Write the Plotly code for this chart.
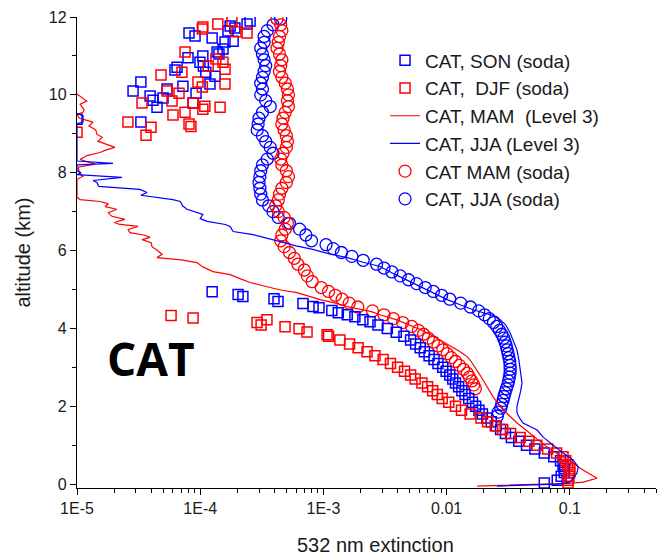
import math
import plotly.graph_objects as go

# ---------------- data ----------------
# CAT, SON (soda) - blue squares
son_alt = [10.10, 10.33, 9.97, 9.86, 9.68, 9.92, 10.15, 10.64, 10.71, 10.22, 10.95, 11.59, 11.51,
           9.79, 10.04, 10.84, 11.00, 10.74, 10.58, 10.28, 11.46, 10.48, 11.10, 11.05, 11.18, 11.36,
           11.64, 11.77, 11.38, 11.72, 11.82, 11.90, 9.30, 9.37,
           4.94, 4.87, 4.82, 4.76, 4.69, 4.64, 4.56, 4.53, 4.46, 4.40, 4.35, 4.30, 4.22, 4.17,
           4.09, 4.0, 3.9, 3.8, 3.7, 3.6, 3.5, 3.4, 3.3, 3.2, 3.1, 3.0, 2.9, 2.8, 2.7, 2.6, 2.5,
           2.4, 2.3, 2.2, 2.1, 2.0, 1.9, 1.8, 1.7, 1.6, 1.5, 1.4, 1.3, 1.2, 1.1, 1.0, 0.9, 0.8,
           0.7, 0.6, 0.5, 0.4, 0.3, 0.2, 0.1, 0.03]
son_ext = [2.85e-5, 3.30e-5, 3.92e-5, 4.14e-5, 4.46e-5, 4.99e-5, 5.38e-5, 6.24e-5, 6.49e-5, 7.24e-5,
           7.96e-5, 8.11e-5, 9.08e-5, 8.75e-5, 9.25e-5, 9.95e-5, 1.05e-4, 1.06e-4, 1.11e-4, 1.20e-4,
           1.25e-4, 1.32e-4, 1.37e-4, 1.42e-4, 1.53e-4, 1.59e-4, 1.68e-4, 1.75e-4, 1.85e-4, 1.91e-4,
           2.40e-4, 2.54e-4, 3.30e-5, 1.0e-5,
           1.25e-4, 2.03e-4, 2.22e-4, 3.97e-4, 4.28e-4, 6.82e-4, 8.24e-4, 9.2e-4, 1.17e-3, 1.32e-3,
           1.56e-3, 1.80e-3, 2.09e-3, 2.39e-3,
           2.77e-3, 3.3e-3, 3.9e-3, 4.5e-3, 5.1e-3, 5.6e-3, 6.1e-3, 6.6e-3, 7.2e-3, 7.9e-3, 8.5e-3,
           9.3e-3, 9.9e-3, 0.0106, 0.0112, 0.0118, 0.0125, 0.0133, 0.0141, 0.0151, 0.0162, 0.0172,
           0.0183, 0.0195, 0.0212, 0.0230, 0.0252, 0.0274, 0.0300, 0.0335, 0.0385, 0.0445, 0.0520,
           0.0620, 0.0740, 0.0840, 0.0880, 0.0905, 0.0900, 0.0850, 0.0790, 0.0620]

# CAT, DJF (soda) - red squares
djf_alt = [9.30, 8.96, 9.17, 9.79, 10.51, 10.10, 9.84, 9.48, 10.04, 10.58, 11.10, 9.55, 9.25, 9.19,
           9.79, 10.33, 10.20, 9.63, 9.71, 11.74, 11.69, 10.74, 11.82, 10.92, 9.68, 10.84, 10.66,
           10.28, 11.90, 11.62, 11.59, 9.04,
           4.33, 4.27, 4.22, 4.15, 4.09, 4.04, 3.99, 3.91, 3.84,
           3.8, 3.7, 3.6, 3.5, 3.4, 3.3, 3.2, 3.1, 3.0, 2.9, 2.8, 2.7, 2.6, 2.5, 2.4, 2.3, 2.2, 2.1,
           2.0, 1.9, 1.8, 1.7, 1.6, 1.5, 1.4, 1.3, 1.2, 1.1, 1.0, 0.9, 0.8, 0.7, 0.6, 0.5, 0.4, 0.3,
           0.2, 0.1, 0.03]
djf_ext = [2.59e-5, 3.63e-5, 3.99e-5, 3.37e-5, 4.81e-5, 5.38e-5, 5.90e-5, 6.01e-5, 6.73e-5, 7.11e-5,
           7.53e-5, 7.53e-5, 8.11e-5, 8.41e-5, 8.75e-5, 9.59e-5, 1.04e-4, 1.05e-4, 1.09e-4, 1.05e-4,
           1.04e-4, 1.16e-4, 1.39e-4, 1.34e-4, 1.45e-4, 1.53e-4, 1.59e-4, 1.59e-4, 1.81e-4, 1.95e-4,
           2.40e-4, 1.0e-5,
           5.8e-5, 8.75e-5, 3.48e-4, 2.89e-4, 3.12e-4, 4.88e-4, 6.34e-4, 7.36e-4, 1.07e-3,
           1.1e-3, 1.36e-3, 1.63e-3, 1.91e-3, 2.26e-3, 2.62e-3, 3.05e-3, 3.5e-3, 4.0e-3, 4.55e-3,
           5.1e-3, 5.55e-3, 6.3e-3, 7.0e-3, 7.7e-3, 8.4e-3, 9.2e-3, 0.0104, 0.0118, 0.0132, 0.0155,
           0.0190, 0.0215, 0.0248, 0.0285, 0.0330, 0.0395, 0.0465, 0.0540, 0.0660, 0.0780, 0.0880,
           0.0925, 0.0960, 0.0995, 0.1000, 0.0985, 0.0970, 0.0965]

# CAT, MAM (Level 3) - red line
mam_l3_alt = [10.02, 9.92, 9.84, 9.76, 9.62, 9.55, 9.50, 9.40, 9.30, 9.20, 9.10, 8.99, 8.91, 8.81,
              8.72, 8.65, 8.58, 8.52, 8.44, 8.34, 8.22, 8.14, 7.96, 7.91, 7.83, 7.37, 7.31, 7.26,
              7.20, 7.13, 7.06, 6.97, 6.88, 6.80, 6.72, 6.67, 6.62, 6.54, 6.46, 6.40, 6.34, 6.28,
              6.20, 6.10, 6.00, 5.90, 5.82, 5.76, 5.69, 5.58, 5.46, 5.38, 5.28, 5.18, 5.07, 4.98,
              4.92, 4.83, 4.74, 4.65, 4.56, 4.43, 4.35, 4.22, 4.10, 3.97, 3.84, 3.71, 3.58, 3.45,
              3.36, 3.27, 3.15, 3.01, 2.85, 2.68, 2.45, 2.24, 2.08, 1.91, 1.75, 1.57, 1.44, 1.31,
              1.13, 0.95, 0.82, 0.70, 0.54, 0.40, 0.28, 0.15, 0.05, 0.02, -0.05]
mam_l3_ext = [1.0e-5, 1.1e-5, 1.2e-5, 1.06e-5, 1.14e-5, 1.12e-5, 1.0e-5, 1.05e-5, 1.35e-5, 1.25e-5,
              1.42e-5, 1.45e-5, 1.6e-5, 1.48e-5, 1.75e-5, 2.03e-5, 1.7e-5, 1.54e-5, 1.2e-5, 1.06e-5,
              1.4e-5, 1.02e-5, 1.06e-5, 1.12e-5, 1.0e-5, 1.0e-5, 1.06e-5, 1.54e-5, 1.8e-5, 1.69e-5,
              2.11e-5, 1.8e-5, 1.92e-5, 2.45e-5, 2.0e-5, 2.23e-5, 3.13e-5, 2.6e-5, 2.69e-5, 3.5e-5,
              3.92e-5, 3.37e-5, 4.0e-5, 4.06e-5, 4.5e-5, 4.9e-5, 4.46e-5, 7.0e-5, 9.4e-5, 1.05e-4,
              1.27e-4, 1.75e-4, 2.1e-4, 2.54e-4, 3.48e-4, 4.6e-4, 6.1e-4, 7.5e-4, 9.4e-4, 1.25e-3,
              1.56e-3, 2.45e-3, 2.88e-3, 3.95e-3, 4.9e-3, 6.1e-3, 7.4e-3, 8.8e-3, 0.0104, 0.0121,
              0.0134, 0.0147, 0.0158, 0.0170, 0.0182, 0.0197, 0.0216, 0.0238, 0.0260, 0.0287,
              0.0325, 0.0372, 0.0420, 0.0475, 0.0560, 0.0653, 0.0760, 0.0881, 0.106, 0.122, 0.140,
              0.166, 0.128, 0.100, 0.0177]

# CAT, JJA (Level 3) - blue line
jja_l3_alt = [9.52, 9.47, 9.30, 9.26, 8.30, 8.24, 8.20, 8.05, 8.00, 7.95, 7.88, 7.80, 7.75, 7.65,
              7.57, 7.49, 7.42, 7.39, 7.31, 7.26, 7.15, 7.06, 6.98, 6.93, 6.82, 6.75, 6.67, 6.62,
              6.55, 6.49, 6.41, 6.33, 6.23, 6.12, 6.03, 5.92, 5.82, 5.70, 5.59, 5.40, 5.20, 5.00,
              4.74, 4.60, 4.48, 4.30, 4.10, 3.89, 3.65, 3.45, 3.20, 3.01, 2.80, 2.60, 2.38, 2.16,
              2.00, 1.83, 1.70, 1.57, 1.39, 1.20, 1.06, 0.92, 0.80, 0.62, 0.44, 0.28, 0.15, 0.05,
              0.00, -0.05]
jja_l3_ext = [1.0e-5, 1.12e-5, 1.12e-5, 1.0e-5, 1.0e-5, 1.96e-5, 1.0e-5, 1.0e-5, 1.08e-5, 1.0e-5,
              2.32e-5, 1.35e-5, 1.45e-5, 1.5e-5, 3.24e-5, 3.7e-5, 3.3e-5, 3.9e-5, 6.0e-5, 6.9e-5,
              7.2e-5, 7.8e-5, 9.5e-5, 1.05e-4, 1.0e-4, 1.14e-4, 1.6e-4, 1.75e-4, 1.8e-4, 1.85e-4,
              2.69e-4, 3.3e-4, 4.45e-4, 6.0e-4, 8.2e-4, 1.1e-3, 1.56e-3, 2.1e-3, 2.88e-3, 3.74e-3,
              5.05e-3, 6.8e-3, 0.0101, 0.0130, 0.0164, 0.0256, 0.0300, 0.0327, 0.0352, 0.0372,
              0.0385, 0.0394, 0.0402, 0.0409, 0.0398, 0.0380, 0.0372, 0.0372, 0.0390, 0.0417,
              0.0542, 0.0610, 0.0690, 0.0780, 0.0881, 0.106, 0.117, 0.114, 0.106, 0.100, 0.0787,
              0.0256]

# CAT MAM (soda) - red circles
mam_soda_alt = [11.95, 11.8, 11.65, 11.5, 11.35, 11.2, 11.05, 10.9, 10.75, 10.6, 10.45, 10.3, 10.15,
                10.0, 9.85, 9.7, 9.55, 9.4, 9.25, 9.1, 8.95, 8.8, 8.65, 8.5, 8.35, 8.2, 8.05, 7.9,
                7.75, 7.6, 7.45, 7.3, 7.15, 7.0, 6.85, 6.7, 6.55, 6.4, 6.25, 6.1, 5.95, 5.8, 5.65,
                5.5, 5.35, 5.2, 5.05, 4.95, 4.85, 4.75, 4.65, 4.55, 4.45, 4.35, 4.25, 4.15, 4.05,
                3.95, 3.85, 3.75, 3.65, 3.55, 3.45, 3.35, 3.25, 3.15, 3.05, 2.95, 2.85, 2.75, 2.65,
                2.55, 2.45]
mam_soda_ext = [4.2e-4, 4.5e-4, 4.6e-4, 4.4e-4, 4.3e-4, 4.2e-4, 4.4e-4, 4.6e-4, 4.5e-4, 4.4e-4,
                4.6e-4, 4.9e-4, 5.1e-4, 5.2e-4, 5.1e-4, 5.2e-4, 4.9e-4, 4.7e-4, 4.6e-4, 4.8e-4,
                5.0e-4, 5.1e-4, 5.0e-4, 4.7e-4, 4.5e-4, 4.6e-4, 5.0e-4, 5.2e-4, 5.0e-4, 4.6e-4,
                4.4e-4, 4.3e-4, 4.1e-4, 4.3e-4, 4.8e-4, 5.1e-4, 4.9e-4, 4.6e-4, 4.5e-4, 4.8e-4,
                5.3e-4, 5.8e-4, 6.2e-4, 7.0e-4, 7.4e-4, 8.1e-4, 9.6e-4, 1.1e-3, 1.25e-3, 1.42e-3,
                1.62e-3, 1.9e-3, 2.5e-3, 3.1e-3, 3.7e-3, 4.4e-3, 5.2e-3, 5.9e-3, 6.5e-3, 7.1e-3,
                7.8e-3, 8.5e-3, 9.3e-3, 0.0101, 0.0109, 0.0118, 0.0127, 0.0137, 0.0147, 0.0153,
                0.0160, 0.0166, 0.0171]

# CAT, JJA (soda) - blue circles
jja_soda_alt = [11.95, 11.8, 11.65, 11.5, 11.35, 11.2, 11.05, 10.9, 10.75, 10.6, 10.45, 10.3, 10.15,
                10.0, 9.85, 9.7, 9.55, 9.4, 9.25, 9.1, 8.95, 8.8, 8.65, 8.5, 8.35, 8.2, 8.05, 7.9,
                7.75, 7.6, 7.45, 7.3, 7.15, 7.0, 6.85, 6.7, 6.55, 6.4, 6.25, 6.15, 6.05, 5.95, 5.85,
                5.75, 5.65, 5.55, 5.45, 5.35, 5.25, 5.15, 5.05, 4.95, 4.85, 4.75, 4.65, 4.55, 4.45,
                4.35, 4.25, 4.15, 4.05, 3.95, 3.85, 3.75, 3.65, 3.55, 3.45, 3.35, 3.25, 3.15, 3.05,
                2.95, 2.85, 2.75, 2.65, 2.55, 2.45, 2.35, 2.25, 2.15, 2.05, 1.95, 1.85, 1.75]
jja_soda_ext = [4.5e-4, 3.9e-4, 3.5e-4, 3.3e-4, 3.3e-4, 3.1e-4, 3.2e-4, 3.3e-4, 3.4e-4, 3.3e-4,
                3.2e-4, 3.1e-4, 3.2e-4, 3.1e-4, 3.4e-4, 3.7e-4, 3.2e-4, 3.0e-4, 2.95e-4, 2.9e-4,
                3.2e-4, 3.4e-4, 3.7e-4, 3.9e-4, 3.5e-4, 3.2e-4, 3.1e-4, 3.05e-4, 3.0e-4, 3.05e-4,
                3.1e-4, 3.2e-4, 3.6e-4, 3.9e-4, 4.3e-4, 5.3e-4, 6.4e-4, 7.2e-4, 8.0e-4, 1.05e-3,
                1.2e-3, 1.4e-3, 1.7e-3, 2.1e-3, 2.7e-3, 3.1e-3, 3.6e-3, 4.2e-3, 4.9e-3, 5.7e-3,
                6.7e-3, 7.8e-3, 9.1e-3, 0.0106, 0.0130, 0.0156, 0.0182, 0.0203, 0.0222, 0.0240,
                0.0255, 0.0268, 0.0280, 0.0290, 0.0298, 0.0305, 0.0310, 0.0315, 0.0320, 0.0325,
                0.0327, 0.0328, 0.0327, 0.0323, 0.0318, 0.0313, 0.0305, 0.0298, 0.0292, 0.0287,
                0.0280, 0.0275, 0.0262, 0.0258]

x_tick_vals = [1e-5, 1e-4, 1e-3, 1e-2, 1e-1]
x_tick_text = ["1E-5", "1E-4", "1E-3", "0.01", "0.1"]
y_tick_vals = [0, 2, 4, 6, 8, 10, 12]

# ---------------- styling ----------------
BLUE = "#0000FF"
RED = "#FF0000"
FONT = "Liberation Sans, Arial, sans-serif"
TEXT = "#1a1a1a"

x_minor = [m * 10 ** e for e in range(-5, 0) for m in range(2, 10) if m * 10 ** e <= 0.5]
y_minor = [1, 3, 5, 7, 9, 11]

fig = go.Figure()

fig.add_trace(go.Scatter(
    x=jja_soda_ext, y=jja_soda_alt, mode="markers", name="CAT, JJA (soda)", legendrank=6,
    marker=dict(symbol="circle-open", size=12, color=BLUE, line=dict(width=1.3, color=BLUE))))
fig.add_trace(go.Scatter(
    x=mam_soda_ext, y=mam_soda_alt, mode="markers", name="CAT MAM (soda)", legendrank=5,
    marker=dict(symbol="circle-open", size=12, color=RED, line=dict(width=1.3, color=RED))))
fig.add_trace(go.Scatter(
    x=son_ext, y=son_alt, mode="markers", name="CAT, SON (soda)", legendrank=1,
    marker=dict(symbol="square-open", size=10, color=BLUE, line=dict(width=1.5, color=BLUE))))
fig.add_trace(go.Scatter(
    x=djf_ext, y=djf_alt, mode="markers", name="CAT,  DJF (soda)", legendrank=2,
    marker=dict(symbol="square-open", size=10, color=RED, line=dict(width=1.5, color=RED))))
fig.add_trace(go.Scatter(
    x=mam_l3_ext, y=mam_l3_alt, mode="lines", name="CAT, MAM  (Level 3)", legendrank=3,
    line=dict(color=RED, width=1.2)))
fig.add_trace(go.Scatter(
    x=jja_l3_ext, y=jja_l3_alt, mode="lines", name="CAT, JJA (Level 3)", legendrank=4,
    line=dict(color=BLUE, width=1.2)))

axis_common = dict(
    showline=True, linecolor="black", linewidth=1.3, mirror=False,
    ticks="outside", tickcolor="black", tickwidth=1.2,
    showgrid=False, zeroline=False,
    tickfont=dict(family=FONT, size=16, color=TEXT),
)

fig.update_xaxes(
    type="log", range=[-5, math.log10(0.5)],
    tickmode="array", tickvals=x_tick_vals, ticktext=x_tick_text, ticklen=6,
    minor=dict(tickmode="array", tickvals=x_minor, ticks="outside", ticklen=4,
               tickcolor="black", tickwidth=1, showgrid=False),
    **axis_common)
fig.update_yaxes(
    range=[-0.1, 12],
    tickmode="array", tickvals=y_tick_vals, ticklen=6,
    minor=dict(tickmode="array", tickvals=y_minor, ticks="outside", ticklen=4,
               tickcolor="black", tickwidth=1, showgrid=False),
    title=dict(text="altitude (km)", font=dict(family=FONT, size=20, color=TEXT),
               standoff=12),
    **axis_common)

# x-axis title
fig.add_annotation(
    text="532 nm extinction", xref="paper", yref="paper", x=0.515, y=-0.121,
    xanchor="center", yanchor="middle", showarrow=False,
    font=dict(family=FONT, size=20, color=TEXT))

# site label
fig.add_annotation(
    text="<b>CAT</b>", xref="paper", yref="paper", x=0.128, y=0.277,
    xanchor="center", yanchor="middle", showarrow=False,
    font=dict(family="Open Sans, sans-serif", size=46, color="black"))

fig.update_layout(
    width=658, height=558,
    margin=dict(l=77, r=2, t=17, b=70),
    paper_bgcolor="white", plot_bgcolor="white",
    showlegend=True,
    legend=dict(x=0.532, y=0.948, xanchor="left", yanchor="top",
                bgcolor="rgba(0,0,0,0)", borderwidth=0,
                font=dict(family=FONT, size=19, color=TEXT),
                tracegroupgap=0),
)

fig.write_html("out.html")
